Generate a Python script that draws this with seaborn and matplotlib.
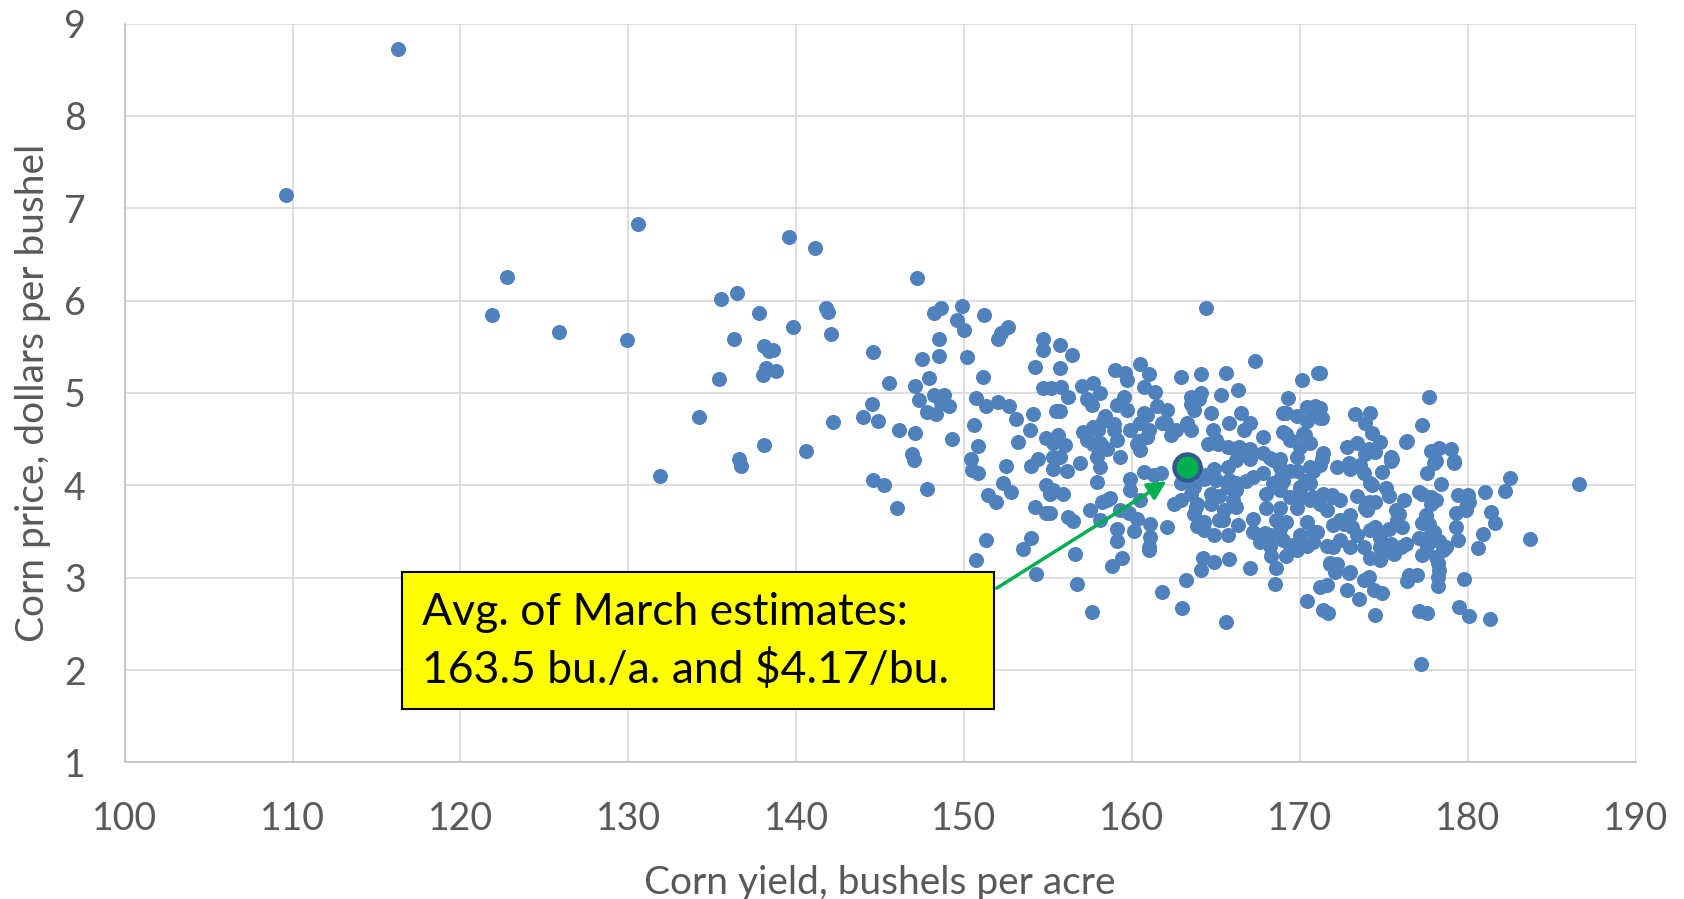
import matplotlib
matplotlib.use("Agg")
import matplotlib.pyplot as plt
from matplotlib.patches import Rectangle
import seaborn as sns

# yield (bu./acre) and price ($/bu.), grouped by area
yield_left = [109.6, 116.3, 121.9, 122.8, 125.9, 129.9, 130.6, 131.9, 134.2, 135.5,
              135.4, 136.5, 136.3, 136.6, 136.7, 137.8, 138.1, 138.2, 138.4, 138.0,
              138.6, 138.8, 138.1, 139.6, 139.8, 141.1, 141.8, 141.9, 142.1, 140.6,
              142.2]
price_left = [7.14, 8.73, 5.84, 6.26, 5.66, 5.57, 6.83, 4.10, 4.74, 6.02,
              5.15, 6.08, 5.58, 4.28, 4.21, 5.87, 5.51, 5.27, 5.45, 5.20,
              5.47, 5.24, 4.44, 6.69, 5.72, 6.57, 5.92, 5.88, 5.64, 4.37,
              4.69]

yield_mid_left = [147.2, 144.6, 145.5, 148.2, 148.6, 149.9, 149.6, 150.0, 151.2, 152.0,
                  152.2, 152.6, 148.5, 148.5, 147.5, 150.2, 147.9, 147.1, 147.3, 148.2,
                  148.8, 148.6, 149.1, 147.8, 148.3, 144.5, 144.0, 144.9, 146.1, 147.1,
                  149.3, 146.9, 147.0, 151.1, 150.7, 151.3, 152.0, 152.7, 153.1, 154.1,
                  150.6, 150.8, 153.9, 150.4, 150.8, 152.5, 153.2, 154.7, 154.7, 154.2,
                  154.7, 155.2, 155.7, 155.7, 155.5, 154.9, 155.3, 155.6, 154.4, 154.0,
                  155.3, 150.5, 155.3, 144.6, 145.2, 147.8, 146.0, 152.3, 152.8, 151.4,
                  151.9, 154.9, 155.3, 155.1, 154.2, 154.9, 151.3, 150.7, 154.0, 153.5,
                  154.3]
price_mid_left = [6.25, 5.44, 5.11, 5.87, 5.92, 5.94, 5.79, 5.68, 5.84, 5.58,
                  5.65, 5.71, 5.58, 5.40, 5.37, 5.39, 5.16, 5.08, 4.92, 4.98,
                  4.98, 4.89, 4.86, 4.79, 4.77, 4.88, 4.74, 4.70, 4.60, 4.57,
                  4.50, 4.34, 4.27, 5.17, 4.95, 4.86, 4.90, 4.86, 4.72, 4.77,
                  4.65, 4.43, 4.60, 4.29, 4.13, 4.21, 4.47, 5.58, 5.47, 5.28,
                  5.05, 5.05, 5.52, 5.27, 4.80, 4.51, 4.46, 4.55, 4.28, 4.21,
                  4.31, 4.17, 4.18, 4.06, 4.00, 3.96, 3.75, 4.02, 3.93, 3.90,
                  3.82, 4.00, 3.95, 3.91, 3.77, 3.70, 3.41, 3.19, 3.43, 3.31,
                  3.04]

yield_upper = [164.4, 156.4, 159.0, 159.6, 159.7, 160.5, 161.0, 162.9, 164.1, 165.6,
               167.3, 170.1, 171.1, 155.8, 157.0, 157.7, 158.1, 156.2, 155.7, 157.3,
               157.6, 159.1, 159.5, 159.7, 160.7, 161.4, 158.4, 158.9, 158.0, 157.1,
               157.3, 156.0, 155.7, 158.1, 158.5, 159.1, 157.9, 159.3, 156.9, 160.7,
               160.5, 161.0, 160.4, 161.5, 162.1, 162.0, 162.6, 162.3, 163.3, 163.5,
               163.5, 164.1, 164.0, 163.7, 164.7, 165.3, 166.3, 166.5, 165.8, 164.8,
               165.0, 167.0, 166.7, 167.8, 169.3, 169.2, 169.8, 170.9, 171.2, 169.0,
               169.4, 170.3, 170.6, 166.4, 167.0, 167.8, 168.2, 168.8, 171.4]
price_upper = [5.92, 5.41, 5.25, 5.22, 5.14, 5.31, 5.21, 5.17, 5.21, 5.22,
               5.35, 5.14, 5.22, 5.07, 5.08, 5.11, 5.00, 4.96, 4.80, 4.93,
               4.87, 4.87, 4.96, 4.82, 5.06, 5.01, 4.75, 4.66, 4.60, 4.58,
               4.49, 4.44, 4.31, 4.46, 4.39, 4.49, 4.31, 4.31, 4.24, 4.78,
               4.68, 4.60, 4.48, 4.86, 4.82, 4.68, 4.60, 4.55, 4.68, 4.60,
               4.96, 5.00, 4.93, 4.82, 4.78, 4.98, 5.03, 4.78, 4.68, 4.60,
               4.49, 4.68, 4.60, 4.52, 4.95, 4.78, 4.75, 4.86, 4.73, 4.58,
               4.49, 4.55, 4.46, 4.42, 4.39, 4.35, 4.30, 4.28, 4.35]

yield_core = [160.9, 161.8, 163.5, 164.5, 165.1, 165.7, 166.2, 166.8, 167.0, 166.2,
              165.7, 164.9, 164.3, 163.7, 168.4, 168.8, 169.2, 169.0, 170.4, 170.8,
              170.0, 169.8, 169.4, 169.0, 170.6, 167.2, 167.8, 168.4, 168.0, 168.8,
              169.4, 170.0, 170.8, 171.2, 172.0, 171.6, 165.7, 166.2, 166.8, 166.0,
              165.2, 164.7, 164.7, 165.5, 166.2, 165.2, 164.3, 163.9, 164.9, 165.7,
              166.3, 167.2, 168.0, 167.2, 168.8, 169.2, 169.8, 170.4, 170.8, 168.8,
              168.2, 167.6, 170.0, 169.6, 170.8, 172.0, 162.9, 163.5, 162.5, 162.9,
              163.9, 163.7, 161.7, 160.7, 159.9, 159.9, 160.5, 159.3, 158.5, 157.9,
              158.1, 158.3, 157.7, 158.3, 158.9, 159.9, 160.3, 160.9, 160.5, 157.7,
              157.5, 158.1, 159.1, 160.1, 161.1, 162.1, 161.1, 159.1, 161.0]
price_core = [4.76, 4.67, 4.88, 4.45, 4.45, 4.42, 4.38, 4.38, 4.29, 4.27,
              4.20, 4.18, 4.07, 3.98, 4.27, 4.20, 4.56, 4.78, 4.85, 4.83,
              4.41, 4.31, 4.16, 4.05, 4.20, 4.09, 4.13, 4.02, 3.91, 3.95,
              3.87, 3.98, 3.87, 3.80, 3.87, 3.73, 3.98, 4.02, 4.05, 3.84,
              3.88, 3.91, 3.80, 3.73, 3.77, 3.63, 3.60, 3.56, 3.46, 3.46,
              3.57, 3.50, 3.75, 3.64, 3.75, 3.60, 3.75, 3.60, 3.49, 3.53,
              3.46, 3.39, 3.46, 3.35, 3.39, 3.57, 4.02, 3.91, 3.80, 3.84,
              3.80, 3.69, 4.13, 4.14, 4.07, 3.95, 3.84, 3.73, 3.84, 4.04,
              4.20, 4.42, 4.45, 4.70, 4.60, 4.60, 4.45, 4.52, 4.38, 4.63,
              3.73, 3.62, 3.53, 3.51, 3.58, 3.55, 3.44, 3.40, 3.33]

yield_lower = [156.1, 155.9, 161.3, 158.7, 158.2, 155.1, 156.2, 156.5, 159.8, 160.3,
               161.0, 159.4, 158.8, 156.6, 156.7, 157.6, 161.8, 163.0, 163.2, 164.1,
               165.6, 164.2, 164.9, 165.8, 167.0, 168.5, 168.6, 170.4, 171.6, 163.8,
               164.3, 165.4, 167.9, 169.0, 169.4, 168.2, 168.3, 169.2, 169.8, 170.4,
               171.0, 168.6, 169.8, 168.9, 169.8, 170.6, 165.8, 166.2, 165.0, 163.8,
               164.4, 171.4, 171.4, 171.8]
price_lower = [4.15, 3.91, 4.11, 3.86, 3.82, 3.70, 3.66, 3.61, 3.70, 3.64,
               3.30, 3.21, 3.13, 3.26, 2.93, 2.63, 2.84, 2.67, 2.97, 3.08,
               2.52, 3.21, 3.17, 3.20, 3.11, 2.93, 3.10, 2.75, 2.92, 3.77,
               3.52, 3.62, 3.48, 3.41, 3.34, 3.34, 3.23, 3.23, 3.30, 3.34,
               3.50, 3.62, 3.84, 4.09, 4.15, 4.02, 4.06, 3.95, 4.06, 4.17,
               4.11, 3.91, 2.65, 3.15]

yield_right = [186.6, 183.7, 182.5, 182.2, 181.0, 179.4, 180.0, 180.1, 179.9, 179.3,
               179.3, 179.4, 181.4, 181.6, 180.9, 180.6, 179.8, 179.5, 180.1, 181.3,
               177.2, 177.1, 177.6, 174.5, 171.7, 172.8, 173.5, 174.4, 174.9, 173.8,
               176.4, 177.0, 178.2, 178.2, 171.2, 171.8, 172.1, 172.9, 177.3, 177.8,
               177.5, 177.3, 178.0, 177.1, 177.6, 178.5, 178.2, 178.3, 177.3, 177.6,
               178.0, 179.2, 178.4, 176.2, 175.7, 175.8, 176.1, 175.3, 175.1, 174.9,
               173.9, 174.2, 173.4, 173.1, 172.4, 171.6, 174.8, 175.1, 175.4, 176.0,
               174.2, 172.4, 171.9, 172.4, 173.4, 174.1, 174.5, 173.6, 172.9, 172.2,
               175.4, 171.2, 173.8, 174.3, 171.2, 177.7, 173.3, 174.2, 173.9, 177.3,
               176.4, 174.3, 174.8, 172.8, 173.4, 174.1, 171.2, 171.3, 175.4, 177.8,
               178.3, 179.0, 179.2, 178.1, 170.4, 170.2, 176.3, 174.5, 173.9, 173.0,
               175.5, 174.2, 171.3, 170.8, 170.3, 170.0, 170.6, 174.0, 173.0, 172.6,
               174.5, 175.3, 175.9, 177.1, 177.8, 178.1, 177.7, 177.8, 178.3, 178.7,
               178.1, 179.9, 172.0, 173.0, 173.8, 174.8, 175.6, 176.3, 174.8, 175.6,
               172.2, 173.0, 174.1, 176.5]
price_right = [4.01, 3.42, 4.08, 3.94, 3.93, 3.89, 3.90, 3.82, 3.73, 3.70,
               3.55, 3.41, 3.71, 3.59, 3.47, 3.32, 2.99, 2.68, 2.58, 2.55,
               2.07, 2.64, 2.62, 2.60, 2.62, 2.87, 2.77, 2.87, 2.83, 2.98,
               2.96, 3.03, 3.01, 2.91, 2.90, 3.16, 3.06, 3.05, 3.91, 3.80,
               3.68, 3.59, 3.50, 3.43, 3.34, 3.30, 3.16, 3.08, 3.25, 4.13,
               4.24, 4.24, 4.01, 3.84, 3.73, 3.62, 3.55, 3.88, 3.97, 4.14,
               3.75, 3.52, 3.46, 3.55, 3.41, 3.34, 3.43, 3.28, 3.37, 3.33,
               3.21, 3.62, 3.90, 3.84, 3.88, 3.82, 3.82, 4.22, 4.24, 4.20,
               4.26, 4.22, 4.13, 4.00, 5.22, 4.96, 4.77, 4.78, 4.68, 4.65,
               4.48, 4.57, 4.47, 4.42, 4.46, 4.39, 4.84, 4.73, 4.31, 4.37,
               4.40, 4.39, 4.26, 4.26, 4.70, 4.56, 4.47, 4.36, 4.34, 4.18,
               4.29, 4.02, 4.29, 4.16, 4.05, 3.95, 3.84, 3.73, 3.68, 3.58,
               3.55, 3.53, 3.69, 3.93, 3.87, 3.84, 3.58, 3.48, 3.40, 3.33,
               3.22, 3.77, 3.33, 3.33, 3.33, 3.33, 3.33, 3.37, 3.19, 3.26,
               3.15, 3.06, 3.01, 3.03]

avg_yield = 163.3
avg_price = 4.2
note_text = "Avg. of March estimates:\n163.5 bu./a. and $4.17/bu."

yields = yield_left + yield_mid_left + yield_upper + yield_core + yield_lower + yield_right
prices = price_left + price_mid_left + price_upper + price_core + price_lower + price_right

sns.set_style("white")
plt.rcParams["font.family"] = ["Lato", "DejaVu Sans"]

fig = plt.figure(figsize=(16.84, 8.99), dpi=100)
ax = fig.add_axes([0.074, 0.152, 0.8973, 0.8217])

sns.scatterplot(x=yields, y=prices, color="#4f81bd", s=117, linewidth=0, ax=ax, zorder=3)
ax.scatter([avg_yield], [avg_price], s=360, color="#00b050", edgecolor="#35578f",
           linewidth=3, zorder=4)

ax.set_xlim(100, 190)
ax.set_ylim(1, 9)
ax.set_xticks(range(100, 191, 10))
ax.set_yticks(range(1, 10))
ax.grid(True, color="#d9d9d9", linewidth=1.2)
ax.set_axisbelow(True)
for side in ["top", "right"]:
    ax.spines[side].set_visible(False)
for side in ["left", "bottom"]:
    ax.spines[side].set_color("#bfbfbf")
    ax.spines[side].set_linewidth(1.2)
ax.tick_params(axis="both", length=0, labelsize=27, labelcolor="#595959")
ax.tick_params(axis="y", pad=28)
ax.tick_params(axis="x", pad=28)

ax.set_xlabel("Corn yield, bushels per acre", fontsize=28, color="#595959", labelpad=20)
ax.set_ylabel("Corn price, dollars per bushel", fontsize=28, color="#595959", labelpad=9)

# callout box and arrow
ax.add_patch(Rectangle((116.5, 1.58), 35.31, 1.478, facecolor="#ffff00",
                       edgecolor="black", linewidth=1.5, zorder=5))
ax.text(117.7, 2.31, note_text, fontsize=32, color="black", va="center", ha="left",
        linespacing=1.45, zorder=6)
ax.annotate("", xy=(162.2, 4.06), xytext=(151.8, 2.87),
            arrowprops=dict(arrowstyle="-|>", color="#00b050", lw=2.5, mutation_scale=28),
            zorder=6)

fig.savefig("out.png", dpi=100)
